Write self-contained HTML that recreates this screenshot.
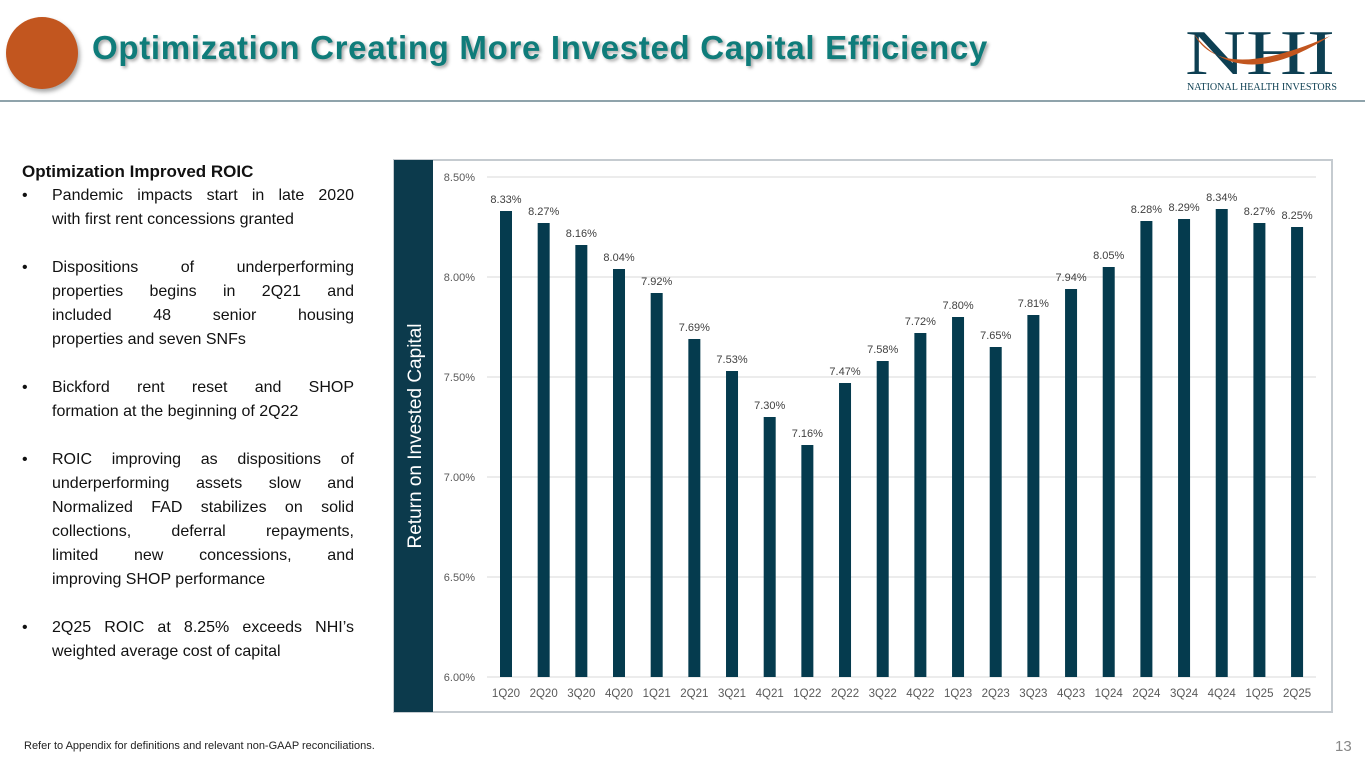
<!DOCTYPE html>
<html><head><meta charset="utf-8">
<style>
body{margin:0;width:1365px;height:768px;background:#fff;position:relative;overflow:hidden;font-family:"Liberation Sans",sans-serif}
.abs{position:absolute}
.title{left:92px;top:29px;font-size:33px;font-weight:bold;color:#0f7c7a;letter-spacing:0.7px;text-shadow:2px 2px 3px rgba(0,0,0,0.35);white-space:nowrap}
.txt{left:22px;top:160px;width:332px;font-size:16px;color:#111;line-height:24px}
.ln{display:block;text-align:justify;text-align-last:justify;white-space:nowrap}
.ln.last{text-align-last:left}
.b{position:relative;padding-left:30px}
.b:before{content:"•";position:absolute;left:0;top:0}
</style></head><body>
<div class="abs" style="left:6px;top:17px;width:72px;height:72px;border-radius:50%;background:#c2561f;box-shadow:2px 3px 4px rgba(0,0,0,0.35)"></div>
<div class="abs title">Optimization Creating More Invested Capital Efficiency</div>
<div class="abs" style="left:1180px;top:14px;width:170px;height:80px">
<svg width="170" height="80">
<text x="80" y="60" text-anchor="middle" font-family="Liberation Serif,serif" font-size="64" fill="#0d3f52" textLength="150" lengthAdjust="spacingAndGlyphs">NHI</text>
<path d="M14 20 Q40 70 150 22 Q60 80 14 20Z" fill="#c2561f"/>
<text x="82" y="76" text-anchor="middle" font-family="Liberation Serif,serif" font-size="10" fill="#0d3f52" textLength="150" lengthAdjust="spacingAndGlyphs">NATIONAL HEALTH INVESTORS</text>
</svg></div>
<div class="abs" style="left:0;top:100px;width:1365px;height:2px;background:#8fa3ab"></div>

<div class="abs txt">
<div style="font-weight:bold;font-size:17px">Optimization Improved ROIC</div>
<div class="b"><span class="ln">Pandemic impacts start in late 2020</span><span class="ln last">with first rent concessions granted</span></div>
<div>&nbsp;</div>
<div class="b"><span class="ln">Dispositions of underperforming</span><span class="ln">properties begins in 2Q21 and</span><span class="ln">included 48 senior housing</span><span class="ln last">properties and seven SNFs</span></div>
<div>&nbsp;</div>
<div class="b"><span class="ln">Bickford rent reset and SHOP</span><span class="ln last">formation at the beginning of 2Q22</span></div>
<div>&nbsp;</div>
<div class="b"><span class="ln">ROIC improving as dispositions of</span><span class="ln">underperforming assets slow and</span><span class="ln">Normalized FAD stabilizes on solid</span><span class="ln">collections, deferral repayments,</span><span class="ln">limited new concessions, and</span><span class="ln last">improving SHOP performance</span></div>
<div>&nbsp;</div>
<div class="b"><span class="ln">2Q25 ROIC at 8.25% exceeds NHI’s</span><span class="ln last">weighted average cost of capital</span></div>
</div>

<svg class="abs" style="left:0;top:0" width="1365" height="768" id="chart">
<rect x="394" y="160" width="938" height="552" fill="#fff" stroke="#c5cbd0" stroke-width="2"/>
<rect x="394" y="160" width="39" height="552" fill="#0c3a4c"/>
<text transform="translate(421,436) rotate(-90)" text-anchor="middle" font-size="19" fill="#fff" font-family="Liberation Sans,sans-serif">Return on Invested Capital</text>
<g id="g"></g>
</svg>
<div class="abs" style="left:24px;top:740px;font-size:11px;color:#222">Refer to Appendix for definitions and relevant non-GAAP reconciliations.</div>
<div class="abs" style="left:1335px;top:738px;font-size:15px;color:#888">13</div>
<script>
const categories=["1Q20","2Q20","3Q20","4Q20","1Q21","2Q21","3Q21","4Q21","1Q22","2Q22","3Q22","4Q22","1Q23","2Q23","3Q23","4Q23","1Q24","2Q24","3Q24","4Q24","1Q25","2Q25"];
const values=[8.33,8.27,8.16,8.04,7.92,7.69,7.53,7.30,7.16,7.47,7.58,7.72,7.80,7.65,7.81,7.94,8.05,8.28,8.29,8.34,8.27,8.25];
const ticks=[6.0,6.5,7.0,7.5,8.0,8.5];
const NS="http://www.w3.org/2000/svg";
const g=document.getElementById('g');
const y=v=>677-(v-6.0)*200;
const x=i=>506+i*37.67;
function mk(t,a,txt){const e=document.createElementNS(NS,t);for(const k in a)e.setAttribute(k,a[k]);if(txt!=null)e.textContent=txt;g.appendChild(e);return e;}
ticks.forEach(t=>{
 const l=mk('line',{x1:487,x2:1316,y1:y(t),y2:y(t),stroke:'#d9d9d9','stroke-width':1});
 
 
 const tx=mk('text',{x:475,y:y(t)+4,'text-anchor':'end','font-size':11,fill:'#595959'},t.toFixed(2)+'%');
 
 
});
values.forEach((v,i)=>{
 const r=mk('rect',{x:x(i)-6,y:y(v),width:12,height:y(6)-y(v),fill:'#053b4e'});
 
 
 const lb=mk('text',{x:x(i),y:y(v)-8,'text-anchor':'middle','font-size':11,fill:'#404040'},v.toFixed(2)+'%');
 
 
 const c=mk('text',{x:x(i),y:697,'text-anchor':'middle','font-size':11.5,fill:'#595959'},categories[i]);
 
 
});
</script>
</body></html>
